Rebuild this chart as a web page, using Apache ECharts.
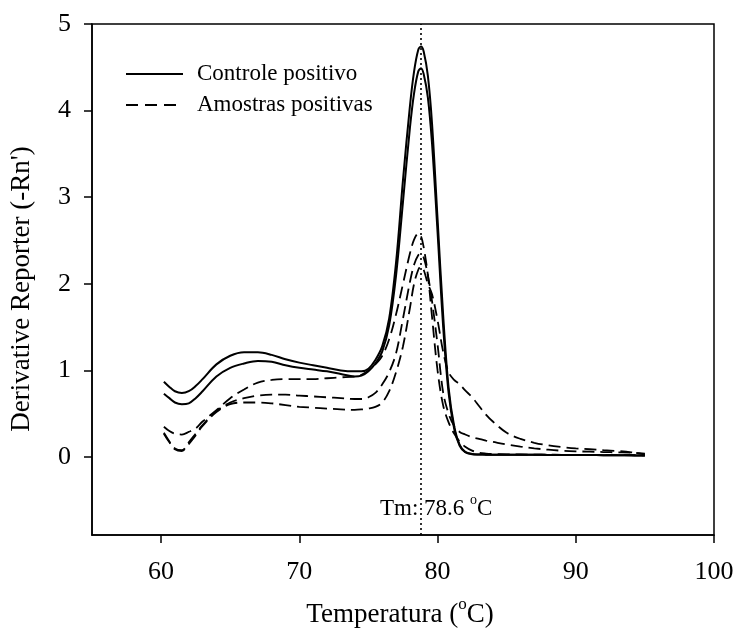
<!DOCTYPE html>
<html>
<head>
<meta charset="utf-8">
<script src="https://cdn.jsdelivr.net/npm/echarts@6/dist/echarts.min.js"></script>
<style>html,body{margin:0;padding:0;background:#fff}#c{width:738px;height:638px}</style>
</head>
<body>
<div id="c"></div>
<script>
const temps = [60.2,60.6,61,61.5,62,62.5,63,64,65,66,67,68,69,70,71,72,73,74,74.5,75,75.5,76,76.5,77,77.5,78,78.3,78.6,78.8,79,79.3,79.6,80,80.4,80.8,81.2,81.6,82,82.5,83,83.5,84,85,86,87,88,89,90,91,92,93,94,95];
const controle1 = [0.87,0.81,0.76,0.74,0.76,0.82,0.90,1.07,1.17,1.21,1.21,1.18,1.13,1.09,1.06,1.03,1.00,0.99,0.99,1.02,1.12,1.28,1.60,2.25,3.20,4.05,4.45,4.70,4.74,4.68,4.40,3.85,2.75,1.65,0.80,0.36,0.14,0.06,0.035,0.03,0.028,0.027,0.027,0.026,0.026,0.025,0.025,0.024,0.023,0.022,0.021,0.02,0.018];
const controle2 = [0.73,0.68,0.63,0.61,0.62,0.68,0.76,0.93,1.03,1.08,1.11,1.10,1.06,1.03,1.01,0.99,0.96,0.93,0.94,0.99,1.08,1.22,1.52,2.10,2.95,3.80,4.20,4.45,4.49,4.42,4.15,3.62,2.60,1.52,0.74,0.33,0.13,0.055,0.033,0.03,0.028,0.027,0.027,0.026,0.026,0.025,0.025,0.024,0.023,0.022,0.021,0.02,0.018];
const amostra1 = [0.35,0.30,0.27,0.26,0.29,0.33,0.41,0.54,0.68,0.78,0.86,0.89,0.90,0.90,0.90,0.91,0.92,0.93,0.95,1.00,1.07,1.17,1.36,1.65,2.00,2.35,2.51,2.58,2.55,2.42,2.10,1.62,1.00,0.60,0.40,0.27,0.18,0.12,0.075,0.05,0.04,0.035,0.032,0.03,0.028,0.027,0.026,0.025,0.024,0.023,0.022,0.021,0.02];
const amostra2 = [0.28,0.18,0.10,0.08,0.17,0.27,0.37,0.53,0.63,0.68,0.71,0.72,0.72,0.71,0.70,0.69,0.68,0.67,0.67,0.69,0.74,0.84,0.98,1.20,1.60,2.02,2.22,2.33,2.35,2.30,2.10,1.80,1.30,0.75,0.50,0.36,0.29,0.26,0.23,0.21,0.19,0.175,0.145,0.12,0.10,0.085,0.073,0.066,0.062,0.058,0.054,0.05,0.04];
const amostra3 = [0.27,0.17,0.09,0.07,0.15,0.25,0.36,0.52,0.61,0.63,0.63,0.62,0.60,0.58,0.57,0.56,0.55,0.545,0.55,0.56,0.58,0.63,0.76,0.98,1.28,1.72,2.00,2.16,2.20,2.16,2.00,1.88,1.58,1.22,0.98,0.89,0.84,0.77,0.69,0.59,0.49,0.41,0.28,0.21,0.165,0.135,0.115,0.10,0.09,0.08,0.07,0.055,0.03];
const xTicks = [60,70,80,90,100];
const yTicks = [0,1,2,3,4,5];
const tmValue = 78.8;
const tmLabel = 'Tm: 78.6 ';
const legendNames = ['Controle positivo','Amostras positivas'];

const FONT = "'Liberation Serif','Times New Roman',serif";
const pairs = v => temps.map((t,i)=>[t, v[i]]);
const solid = {type:'solid', width:2, color:'#000'};
const dashed = {type:[12,6], width:1.8, color:'#000'};
function mk(name, data, ls, extra){
  return Object.assign({type:'line', name:name, data:pairs(data), showSymbol:false, symbol:'none',
    smooth:0.35, lineStyle:ls, itemStyle:{color:'#000'}, silent:true}, extra||{});
}
const chart = echarts.init(document.getElementById('c'), null, {renderer:'canvas'});
chart.setOption({
  animation:false,
  backgroundColor:'#fff',
  grid:{left:92, right:24, top:24, bottom:103, show:true, borderColor:'#000', borderWidth:1.5},
  xAxis:{type:'value', min:55, max:100,
    axisLine:{onZero:false, lineStyle:{color:'#000', width:1.5}},
    axisTick:{customValues:xTicks, length:8, inside:false, lineStyle:{color:'#000', width:1.5}},
    axisLabel:{customValues:xTicks, fontFamily:FONT, fontSize:26, color:'#000', margin:24},
    splitLine:{show:false}},
  yAxis:{type:'value', min:-0.9, max:5,
    axisLine:{show:true, onZero:false, lineStyle:{color:'#000', width:1.5}},
    axisTick:{show:true, customValues:yTicks, length:8, lineStyle:{color:'#000', width:1.5}},
    axisLabel:{customValues:yTicks, fontFamily:FONT, fontSize:26, color:'#000', margin:21},
    splitLine:{show:false}},
  series:[
    mk(legendNames[0], controle1, solid, {markLine:{silent:true, symbol:'none', label:{show:false},
      lineStyle:{type:[2,3], width:1.6, color:'#000'}, data:[{xAxis:tmValue}]}}),
    mk(legendNames[0], controle2, solid),
    mk(legendNames[1], amostra1, dashed),
    mk(legendNames[1], amostra2, dashed),
    mk(legendNames[1], amostra3, dashed)
  ],
  graphic:[
    {type:'line', shape:{x1:126, y1:74, x2:183, y2:74}, style:{stroke:'#000', lineWidth:2}},
    {type:'line', shape:{x1:126, y1:105, x2:183, y2:105}, style:{stroke:'#000', lineWidth:1.8, lineDash:[12,7]}},
    {type:'text', left:197, top:62, style:{text:legendNames[0], fontFamily:FONT, fontSize:23, fill:'#000'}},
    {type:'text', left:197, top:93, style:{text:legendNames[1], fontFamily:FONT, fontSize:23, fill:'#000'}},
    {type:'text', left:380, top:493, style:{text:'{a|'+tmLabel+'}{s|o}{a|C}', rich:{
      a:{fontFamily:FONT, fontSize:23, fill:'#000', verticalAlign:'bottom', lineHeight:27},
      s:{fontFamily:FONT, fontSize:14, fill:'#000', verticalAlign:'top', lineHeight:27}}}},
    {type:'text', x:400, y:612, style:{text:'{a|Temperatura (}{s|o}{a|C)}', align:'center', verticalAlign:'middle', rich:{
      a:{fontFamily:FONT, fontSize:27, fill:'#000', verticalAlign:'bottom', lineHeight:32},
      s:{fontFamily:FONT, fontSize:17, fill:'#000', verticalAlign:'top', lineHeight:32}}}},
    {type:'text', x:22, y:289, rotation:Math.PI/2, style:{text:"Derivative Reporter (-Rn')",
      fontFamily:FONT, fontSize:27, fill:'#000', align:'center', verticalAlign:'middle'}}
  ]
});
</script>
</body>
</html>
